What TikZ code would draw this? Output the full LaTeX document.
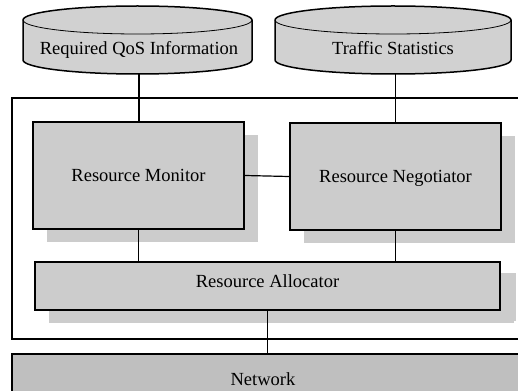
\documentclass[tikz,border=0pt]{standalone}
\usepackage{fontspec}
\setmainfont{Liberation Serif}
\usetikzlibrary{shadows}
\begin{document}
\begin{tikzpicture}[x=1pt,y=1pt,
  lbl/.style={font=\fontsize{18.5}{22}\selectfont, inner sep=0pt},
  dbfill/.style={draw=black, line width=1.5pt, fill=black!18},
  wire/.style={draw=black, line width=1.2pt},
  frame/.style={draw=black, line width=1.2pt},
  box/.style={draw=black, line width=1.7pt, fill=black!20, lbl,
    text height=13pt, text depth=2pt,
    drop shadow={shadow xshift=14pt, shadow yshift=-13pt, fill=black!20, opacity=1}},
  netbox/.style={draw=black, line width=1.5pt, fill=black!25, inner sep=0pt}
]
\useasboundingbox (0,0) rectangle (518,-390);

% outer system frame
\draw[frame] (12,-98) rectangle (540,-339);

% data stores
\draw[dbfill] (23,-20) -- (23,-60)
  arc[start angle=180, end angle=360, x radius=114.5, y radius=14]
  -- (252,-20)
  arc[start angle=0, end angle=180, x radius=114.5, y radius=14] -- cycle;
\draw[line width=0.8pt] (23,-20) arc[start angle=180, end angle=360, x radius=114.5, y radius=14];
\node[lbl, anchor=base] (qos) at (139,-55) {Required QoS Information};
\coordinate (qosb) at (139,-74);

\draw[dbfill] (275,-20) -- (275,-60)
  arc[start angle=180, end angle=360, x radius=118, y radius=14]
  -- (511,-20)
  arc[start angle=0, end angle=180, x radius=118, y radius=14] -- cycle;
\draw[line width=0.8pt] (275,-20) arc[start angle=180, end angle=360, x radius=118, y radius=14];
\node[lbl, anchor=base] (stats) at (393,-55) {Traffic Statistics};
\coordinate (statsb) at (395.5,-74);

% network
\node[netbox, minimum width=540pt, minimum height=60pt, anchor=north west] (net) at (11,-353) {};
\node[lbl, anchor=base] (netlbl) at (263,-385.5) {Network};

% components
\node[box, minimum width=211pt, minimum height=107pt] (mon) at (138.5,-175.5) {Resource Monitor};
\node[box, minimum width=211pt, minimum height=107pt] (neg) at (395.5,-176.5) {Resource Negotiator};
\node[box, minimum width=465pt, minimum height=48pt, text depth=10pt,
  drop shadow={shadow xshift=16pt, shadow yshift=-11pt, fill=black!20, opacity=1}] (alloc) at (267.5,-286) {Resource Allocator};

% connectors
\draw[wire] (qosb) -- (qosb |- mon.north);
\draw[wire] (statsb) -- (statsb |- neg.north);
\draw[wire] (mon.east) -- (neg.west);
\draw[wire] (mon.south) -- (mon.south |- alloc.north);
\draw[wire] (neg.south) -- (neg.south |- alloc.north);
\draw[wire] (alloc.south) -- (alloc.south |- net.north);
\end{tikzpicture}
\end{document}
